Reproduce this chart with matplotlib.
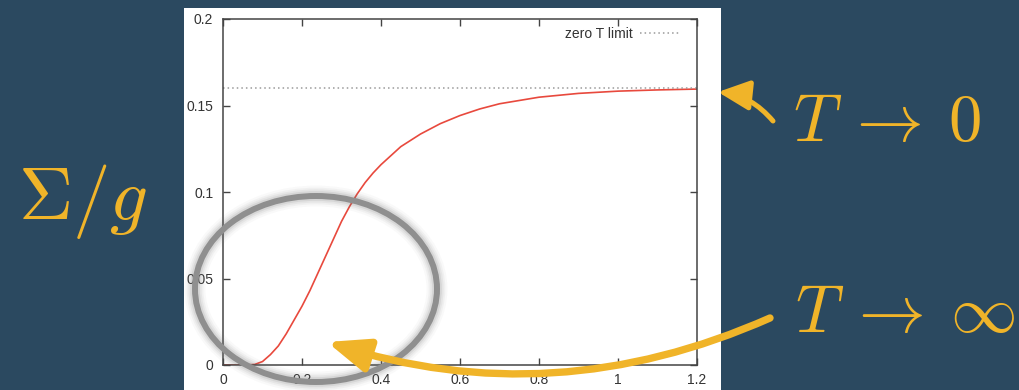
import matplotlib
matplotlib.use("Agg")
import matplotlib.pyplot as plt
from matplotlib.patches import Ellipse, FancyArrowPatch, Rectangle

# Self-energy versus coupling, with its zero-temperature limit
x_vals = [0.0, 0.05, 0.08, 0.10, 0.12, 0.14, 0.16, 0.18, 0.20, 0.22, 0.24,
          0.26, 0.28, 0.30, 0.32, 0.34, 0.36, 0.38, 0.40, 0.45, 0.50, 0.55,
          0.60, 0.65, 0.70, 0.80, 0.90, 1.00, 1.10, 1.20]
sigma_vals = [0.0, 0.0, 0.0003, 0.002, 0.006, 0.011, 0.018, 0.026, 0.034,
              0.043, 0.053, 0.063, 0.073, 0.083, 0.0915, 0.0990, 0.1055,
              0.1110, 0.1158, 0.1262, 0.1335, 0.1395, 0.1442, 0.1480, 0.1510,
              0.1548, 0.1570, 0.1583, 0.1590, 0.1595]
zero_t_limit = 0.16
legend_label = "zero T limit"

x_ticks = [0, 0.2, 0.4, 0.6, 0.8, 1.0, 1.2]
x_tick_labels = ["0", "0.2", "0.4", "0.6", "0.8", "1", "1.2"]
y_ticks = [0, 0.05, 0.1, 0.15, 0.2]
y_tick_labels = ["0", "0.05", "0.1", "0.15", "0.2"]

BG = "#2b4960"
GOLD = "#f0b429"
W, H = 1020, 390

plt.rcParams["mathtext.fontset"] = "cm"
plt.rcParams["font.family"] = ["Liberation Sans", "DejaVu Sans"]

fig = plt.figure(figsize=(W / 100, H / 100), dpi=100, facecolor=BG)

# White panel behind the plot
fig.patches.append(Rectangle((184 / W, 0), (721 - 184) / W, (390 - 8) / H,
                             transform=fig.transFigure, facecolor="white",
                             edgecolor="none", zorder=0))

ax = fig.add_axes([223 / W, 1 - 365 / H, (697 - 223) / W, (365 - 19) / H])
ax.set_facecolor("none")
ax.set_zorder(1)
ax.plot(x_vals, sigma_vals, color="#e8493d", lw=1.2)
ax.axhline(zero_t_limit, color="#9a9a9a", lw=1.1, ls=(0, (1, 2)),
           label=legend_label)
ax.set_xlim(0, 1.2)
ax.set_ylim(0, 0.2)
ax.set_xticks(x_ticks, x_tick_labels)
ax.set_yticks(y_ticks, y_tick_labels)
ax.tick_params(direction="in", length=5, width=1, color="#444444",
               top=True, right=True, labelsize=10, labelcolor="#333333")
ax.tick_params(axis="y", pad=7)
ax.tick_params(axis="x", pad=6)
for s in ax.spines.values():
    s.set_color("#444444")
    s.set_linewidth(1.1)
ax.legend(loc="upper right", bbox_to_anchor=(0.976, 0.992), borderaxespad=0,
          frameon=False, markerfirst=False, fontsize=10,
          handlelength=2.9, handletextpad=0.5, labelcolor="#333333")

# Overlay in pixel coordinates for highlight ellipse and arrows
ov = fig.add_axes([0, 0, 1, 1])
ov.set_xlim(0, W)
ov.set_ylim(H, 0)
ov.axis("off")
ov.set_facecolor("none")
ov.set_zorder(2)

for lw, a in [(15, 0.04), (12, 0.06), (9.5, 0.08), (7, 0.12)]:
    ov.add_patch(Ellipse((316, 289), 242, 186, fill=False, lw=lw,
                         edgecolor="#707070", alpha=a))
ov.add_patch(Ellipse((316, 289), 242, 186, fill=False, lw=4.3,
                     edgecolor="#8f8f8f"))

ov.add_patch(FancyArrowPatch((773, 121), (718, 92),
                             connectionstyle="arc3,rad=0.2",
                             arrowstyle="-|>,head_length=19,head_width=9",
                             lw=3.6, color=GOLD, shrinkA=0, shrinkB=0))
ov.add_patch(FancyArrowPatch((770, 318), (327, 342),
                             connectionstyle="arc3,rad=-0.19",
                             arrowstyle="-|>,head_length=25,head_width=10",
                             lw=5.3, color=GOLD, shrinkA=0, shrinkB=0))

fig.text(18 / W, 1 - 220 / H, r"$\Sigma/g$", color=GOLD, fontsize=54,
         ha="left", va="baseline")
fig.text(793 / W, 1 - 141 / H, r"$T\:\rightarrow\:0$", color=GOLD,
         fontsize=48, ha="left", va="baseline")
fig.text(795 / W, 1 - 332 / H, r"$T\:\rightarrow\:\infty$", color=GOLD,
         fontsize=48, ha="left", va="baseline")

fig.savefig("out.png", dpi=100, facecolor=BG)
